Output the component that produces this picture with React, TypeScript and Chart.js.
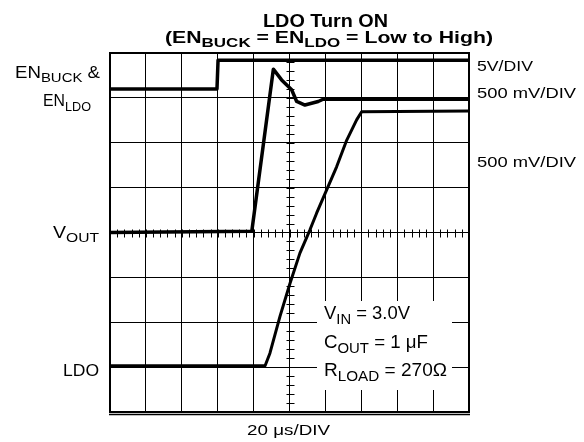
import React, { useEffect, useRef } from "react";
import { Chart, registerables } from "chart.js";

Chart.register(...registerables);

// ---- Data (time in µs, vertical position in scope divisions, 0 = centre line) ----
const enTimeUs = [0, 59.6, 60.2, 200];
const enDiv = [3.2, 3.2, 3.84, 3.84];

const voutTimeUs = [0, 79, 91, 95.6, 101.2, 104, 108.6, 116, 118.7, 200];
const voutDiv = [0, 0.03, 3.64, 3.4, 3.18, 2.92, 2.84, 2.92, 2.97, 2.97];

const ldoTimeUs = [0, 86.4, 89.1, 94.7, 100.3, 105.8, 111.4, 115.1, 120.7, 126.3, 131.9, 137.4, 140.2, 200];
const ldoDiv = [-2.97, -2.97, -2.69, -1.87, -1.13, -0.46, 0.06, 0.43, 0.95, 1.47, 2.06, 2.51, 2.69, 2.71];

const timeRangeUs = [0, 200];
const timeStepUs = 20;
const divRange = [-4, 4];

const FONT = "'Liberation Sans', Arial, Helvetica, sans-serif";

type Part = { t: string; sub?: boolean };
type Label = { parts: Part[]; x: number; mid: number; size: number; bold?: boolean; width?: number };

const labels: Label[] = [
  { parts: [{ t: "LDO Turn ON" }], x: 263, mid: 20.4, size: 17.5, bold: true, width: 125 },
  {
    parts: [{ t: "(EN" }, { t: "BUCK", sub: true }, { t: " = EN" }, { t: "LDO", sub: true }, { t: " = Low to High)" }],
    x: 165, mid: 36.7, size: 17, bold: true, width: 328,
  },
  { parts: [{ t: "EN" }, { t: "BUCK", sub: true }, { t: " &" }], x: 15, mid: 71.5, size: 17, width: 85 },
  { parts: [{ t: "EN" }, { t: "LDO", sub: true }], x: 43, mid: 100, size: 17, width: 48 },
  { parts: [{ t: "V" }, { t: "OUT", sub: true }], x: 53, mid: 231.5, size: 17, width: 46 },
  { parts: [{ t: "LDO" }], x: 63, mid: 370, size: 17, width: 36 },
  { parts: [{ t: "5V/DIV" }], x: 477, mid: 66, size: 14.5, width: 56 },
  { parts: [{ t: "500 mV/DIV" }], x: 477, mid: 93, size: 14.5, width: 99 },
  { parts: [{ t: "500 mV/DIV" }], x: 477, mid: 161.5, size: 14.5, width: 99 },
  { parts: [{ t: "20 μs/DIV" }], x: 247, mid: 430, size: 15, width: 83 },
];

const boxLabels: Label[] = [
  { parts: [{ t: "V" }, { t: "IN", sub: true }, { t: " = 3.0V" }], x: 324, mid: 313, size: 18, width: 86 },
  { parts: [{ t: "C" }, { t: "OUT", sub: true }, { t: " = 1 μF" }], x: 324, mid: 342, size: 18, width: 104 },
  { parts: [{ t: "R" }, { t: "LOAD", sub: true }, { t: " = 270Ω" }], x: 324, mid: 370, size: 18, width: 123 },
];

function drawRich(ctx: CanvasRenderingContext2D, l: Label) {
  const subScale = 0.8;
  const fontFor = (p: Part) =>
    `${l.bold ? "bold " : ""}${(p.sub ? l.size * subScale : l.size).toFixed(2)}px ${FONT}`;
  let total = 0;
  const widths = l.parts.map((p) => {
    ctx.font = fontFor(p);
    const w = ctx.measureText(p.t).width;
    total += w;
    return w;
  });
  const sx = l.width ? l.width / total : 1;
  const baseline = l.mid + 0.358 * l.size;
  ctx.save();
  ctx.translate(l.x, baseline);
  ctx.scale(sx, 1);
  ctx.fillStyle = "#000";
  ctx.textBaseline = "alphabetic";
  ctx.textAlign = "left";
  let cx = 0;
  l.parts.forEach((p, i) => {
    ctx.font = fontFor(p);
    ctx.fillText(p.t, cx, p.sub ? l.size * 0.26 : 0);
    cx += widths[i];
  });
  ctx.restore();
}

const scopePlugin = {
  id: "scopeDecor",
  beforeDatasetsDraw(chart: any) {
    const { ctx, chartArea: a, scales } = chart;
    const xs = scales.x;
    const ys = scales.y;
    ctx.save();
    // minor ticks on centre axes
    ctx.strokeStyle = "#000";
    ctx.lineWidth = 1;
    const cx = Math.round(xs.getPixelForValue(100)) + 0.5;
    const cy = Math.round(ys.getPixelForValue(0)) + 0.5;
    ctx.beginPath();
    for (let v = divRange[0]; v <= divRange[1] + 1e-6; v += 0.2) {
      const y = Math.round(ys.getPixelForValue(v)) + 0.5;
      ctx.moveTo(cx - 4, y);
      ctx.lineTo(cx + 4, y);
    }
    for (let t = timeRangeUs[0]; t <= timeRangeUs[1] + 1e-6; t += 4) {
      const x = Math.round(xs.getPixelForValue(t)) + 0.5;
      ctx.moveTo(x, cy - 4);
      ctx.lineTo(x, cy + 4);
    }
    ctx.stroke();
    // frame
    ctx.lineWidth = 2;
    ctx.strokeRect(a.left, a.top, a.right - a.left, a.bottom - a.top);
    ctx.lineWidth = 1.5;
    ctx.beginPath();
    ctx.moveTo(a.left - 1, a.bottom + 2.5);
    ctx.lineTo(a.right + 1, a.bottom + 2.5);
    ctx.stroke();
    // annotation box
    ctx.fillStyle = "#fff";
    ctx.fillRect(317, 301, 135, 89);
    boxLabels.forEach((l) => drawRich(ctx, l));
    ctx.restore();
  },
  afterDraw(chart: any) {
    const { ctx } = chart;
    ctx.save();
    labels.forEach((l) => drawRich(ctx, l));
    ctx.restore();
  },
};

export default function App() {
  const ref = useRef<HTMLCanvasElement>(null);
  useEffect(() => {
    document.body.style.margin = "0";
    const canvas = ref.current!;
    const toPts = (ts: number[], vs: number[]) => ts.map((t, i) => ({ x: t, y: vs[i] }));
    const ds = (data: any, w: number) => ({
      data,
      showLine: true,
      borderColor: "#000",
      backgroundColor: "#000",
      borderWidth: w,
      pointRadius: 0,
      tension: 0,
      borderJoinStyle: "round" as const,
      borderCapStyle: "butt" as const,
    });
    const chart = new Chart(canvas, {
      type: "scatter",
      data: {
        datasets: [
          ds(toPts(enTimeUs, enDiv), 3.5),
          ds(toPts(voutTimeUs, voutDiv), 3.5),
          ds(toPts(ldoTimeUs, ldoDiv), 3),
        ],
      },
      options: {
        animation: false,
        responsive: false,
        devicePixelRatio: 1,
        layout: { padding: { left: 110, top: 53, right: 115, bottom: 30 } },
        plugins: { legend: { display: false }, tooltip: { enabled: false }, title: { display: false } },
        scales: {
          x: {
            type: "linear",
            min: timeRangeUs[0],
            max: timeRangeUs[1],
            ticks: { stepSize: timeStepUs, display: false },
            grid: { color: "#000", lineWidth: 1, drawTicks: false },
            border: { display: false },
          },
          y: {
            type: "linear",
            min: divRange[0],
            max: divRange[1],
            ticks: { stepSize: 1, display: false },
            grid: { color: "#000", lineWidth: 1, drawTicks: false },
            border: { display: false },
          },
        },
      },
      plugins: [scopePlugin],
    });
    return () => chart.destroy();
  }, []);
  return (
    <div style={{ position: "relative", width: 584, height: 442 }}>
      <canvas ref={ref} width={584} height={442} style={{ display: "block", width: 584, height: 442 }} />
    </div>
  );
}
